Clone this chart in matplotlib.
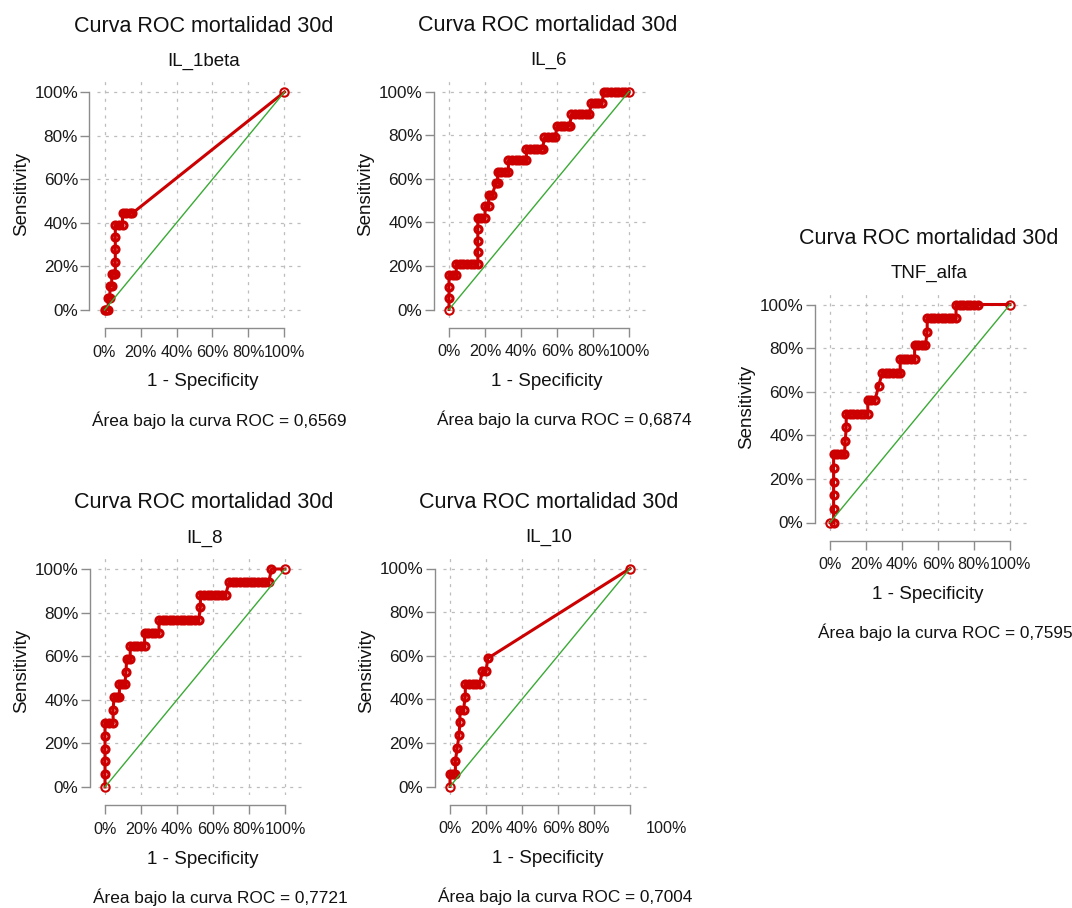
import matplotlib
matplotlib.use("Agg")
import matplotlib.pyplot as plt
import matplotlib.transforms as mtransforms

plt.rcParams["font.family"] = ["Liberation Sans", "DejaVu Sans"]
plt.rcParams["lines.scale_dashes"] = False

W, H = 1072, 908
SX, SY = 180.0, 218.0          # pixels per unit on each panel
RED = "#cc0000"
GREEN = "#3aaa35"
GRID = "#bdbdbd"
AXIS = "#8c8c8c"

# ---- ROC points (1 - specificity, sensitivity) ----
il1b_fpr = [0.00, 0.01, 0.02, 0.02, 0.03, 0.03, 0.04, 0.04, 0.05, 0.06, 0.06, 0.06,
            0.06, 0.06, 0.08, 0.10, 0.10, 0.12, 0.14, 0.155, 1.00]
il1b_tpr = [0.000, 0.000, 0.000, 0.056, 0.056, 0.111, 0.111, 0.167, 0.167, 0.167, 0.222, 0.278,
            0.333, 0.389, 0.389, 0.389, 0.444, 0.444, 0.444, 0.444, 1.000]

il6_fpr = [0.00, 0.00, 0.00, 0.00, 0.02, 0.04,
           0.04, 0.06, 0.08, 0.10, 0.12, 0.14, 0.16,
           0.16, 0.16, 0.16,
           0.16, 0.18, 0.20,
           0.20, 0.22,
           0.22, 0.24,
           0.26, 0.27,
           0.27, 0.29, 0.31, 0.33,
           0.33, 0.35, 0.37, 0.39, 0.41, 0.43,
           0.43, 0.45, 0.47, 0.49, 0.51, 0.52,
           0.53, 0.55, 0.57, 0.59,
           0.60, 0.62, 0.64, 0.66, 0.67,
           0.68, 0.70, 0.72, 0.74, 0.76, 0.78,
           0.79, 0.81, 0.83, 0.85,
           0.86, 0.88, 0.90, 0.92, 0.94, 0.96, 0.98, 1.00]
il6_tpr = [0.000, 0.053, 0.105, 0.158, 0.158, 0.158,
           0.211, 0.211, 0.211, 0.211, 0.211, 0.211, 0.211,
           0.263, 0.316, 0.368,
           0.421, 0.421, 0.421,
           0.474, 0.474,
           0.526, 0.526,
           0.579, 0.579,
           0.632, 0.632, 0.632, 0.632,
           0.684, 0.684, 0.684, 0.684, 0.684, 0.684,
           0.737, 0.737, 0.737, 0.737, 0.737, 0.737,
           0.789, 0.789, 0.789, 0.789,
           0.842, 0.842, 0.842, 0.842, 0.842,
           0.895, 0.895, 0.895, 0.895, 0.895, 0.895,
           0.947, 0.947, 0.947, 0.947,
           1.000, 1.000, 1.000, 1.000, 1.000, 1.000, 1.000, 1.000]

il8_fpr = [0.00, 0.00, 0.00, 0.00, 0.00, 0.00, 0.02, 0.045,
           0.045,
           0.05, 0.065, 0.08,
           0.08, 0.095, 0.11,
           0.117,
           0.12, 0.14,
           0.14, 0.16, 0.18, 0.20, 0.22,
           0.22, 0.24, 0.26, 0.28, 0.30,
           0.30, 0.32, 0.34, 0.36, 0.38, 0.40, 0.42, 0.44, 0.46, 0.48, 0.50, 0.52,
           0.53,
           0.53, 0.55, 0.57, 0.59, 0.61, 0.63, 0.65, 0.67,
           0.69, 0.71, 0.73, 0.75, 0.77, 0.79, 0.81, 0.83, 0.85, 0.87, 0.89, 0.91,
           0.925, 1.00]
il8_tpr = [0.000, 0.059, 0.118, 0.176, 0.235, 0.294, 0.294, 0.294,
           0.353,
           0.412, 0.412, 0.412,
           0.471, 0.471, 0.471,
           0.529,
           0.588, 0.588,
           0.647, 0.647, 0.647, 0.647, 0.647,
           0.706, 0.706, 0.706, 0.706, 0.706,
           0.765, 0.765, 0.765, 0.765, 0.765, 0.765, 0.765, 0.765, 0.765, 0.765, 0.765, 0.765,
           0.824,
           0.882, 0.882, 0.882, 0.882, 0.882, 0.882, 0.882, 0.882,
           0.941, 0.941, 0.941, 0.941, 0.941, 0.941, 0.941, 0.941, 0.941, 0.941, 0.941, 0.941,
           1.000, 1.000]

il10_fpr = [0.00, 0.00, 0.015, 0.03, 0.03, 0.04, 0.05, 0.055, 0.055, 0.075, 0.085,
            0.085, 0.105, 0.125, 0.145, 0.165, 0.18, 0.20, 0.21, 1.00]
il10_tpr = [0.000, 0.059, 0.059, 0.059, 0.118, 0.176, 0.235, 0.294, 0.353, 0.353, 0.412,
            0.471, 0.471, 0.471, 0.471, 0.471, 0.529, 0.529, 0.588, 1.000]

tnf_fpr = [0.00, 0.02,
           0.02, 0.02, 0.02, 0.02, 0.02, 0.04, 0.06, 0.08,
           0.085, 0.09,
           0.09, 0.11, 0.13, 0.15, 0.17, 0.19, 0.21,
           0.21, 0.23, 0.25,
           0.27,
           0.29, 0.31, 0.33, 0.35, 0.37, 0.39,
           0.39, 0.41, 0.43, 0.45, 0.47,
           0.47, 0.49, 0.51, 0.53,
           0.54,
           0.54, 0.56, 0.58, 0.60, 0.62, 0.64, 0.66, 0.68, 0.70,
           0.70, 0.72, 0.74, 0.76, 0.78, 0.80, 0.82, 1.00]
tnf_tpr = [0.000, 0.000,
           0.0625, 0.125, 0.1875, 0.25, 0.3125, 0.3125, 0.3125, 0.3125,
           0.375, 0.4375,
           0.5, 0.5, 0.5, 0.5, 0.5, 0.5, 0.5,
           0.5625, 0.5625, 0.5625,
           0.625,
           0.6875, 0.6875, 0.6875, 0.6875, 0.6875, 0.6875,
           0.75, 0.75, 0.75, 0.75, 0.75,
           0.8125, 0.8125, 0.8125, 0.8125,
           0.875,
           0.9375, 0.9375, 0.9375, 0.9375, 0.9375, 0.9375, 0.9375, 0.9375, 0.9375,
           1.0, 1.0, 1.0, 1.0, 1.0, 1.0, 1.0, 1.0]

markers = ["IL_1beta", "IL_6", "IL_8", "IL_10", "TNF_alfa"]
auc_values = ["0,6569", "0,6874", "0,7721", "0,7004", "0,7595"]
tick_values = [0.0, 0.2, 0.4, 0.6, 0.8, 1.0]
tick_labels = ["0%", "20%", "40%", "60%", "80%", "100%"]

# panel origins: pixel position of the (0, 0) corner of each ROC square
origins = [(104.5, 310.0), (449.0, 309.5), (105.0, 787.0), (450.0, 786.5), (830.0, 522.5)]
curves = [(il1b_fpr, il1b_tpr), (il6_fpr, il6_tpr), (il8_fpr, il8_tpr),
          (il10_fpr, il10_tpr), (tnf_fpr, tnf_tpr)]

XMIN, XMAX = -0.039, 1.094
YMIN, YMAX = -0.037, 1.055

fig = plt.figure(figsize=(W / 100, H / 100), dpi=100)


def px_text(x, y, s, **kw):
    fig.text(x / W, 1 - y / H, s, **kw)


for i, (name, auc, (x0, y0), (fpr, tpr)) in enumerate(zip(markers, auc_values, origins, curves)):
    left = x0 + XMIN * SX
    right = x0 + XMAX * SX
    top = y0 - YMAX * SY
    bottom = y0 - YMIN * SY
    ax = fig.add_axes([left / W, 1 - bottom / H, (right - left) / W, (bottom - top) / H])
    ax.set_xlim(XMIN, XMAX)
    ax.set_ylim(YMIN, YMAX)

    for v in tick_values:
        ax.axvline(v, color=GRID, lw=0.9, ls=(0, (2.2, 3.8)), zorder=0)
        ax.axhline(v, color=GRID, lw=0.9, ls=(0, (2.2, 3.8)), zorder=0)

    # inner points drawn as heavy rings, the two end points as light open circles
    ax.plot(fpr, tpr, color=RED, lw=2.2, zorder=3, clip_on=False)
    ax.plot(fpr[1:-1], tpr[1:-1], ls="none", marker="o", ms=5.0, mfc="none",
            mec=RED, mew=2.3, zorder=3, clip_on=False)
    ax.plot([fpr[0], fpr[-1]], [tpr[0], tpr[-1]], ls="none", marker="o", ms=6.0,
            mfc="none", mec=RED, mew=1.5, zorder=3, clip_on=False)
    ax.plot([0, 1], [0, 1], color=GREEN, lw=1.0, zorder=4)

    for side in ("top", "right"):
        ax.spines[side].set_visible(False)
    ax.spines["left"].set_position(("outward", 6.0))
    ax.spines["bottom"].set_position(("outward", 7.2))
    ax.spines["left"].set_bounds(0, 1)
    ax.spines["bottom"].set_bounds(0, 1)
    for side in ("left", "bottom"):
        ax.spines[side].set_color(AXIS)
        ax.spines[side].set_linewidth(1.0)

    ax.set_xticks(tick_values)
    ax.set_xticklabels(tick_labels)
    ax.set_yticks(tick_values)
    ax.set_yticklabels(tick_labels)
    ax.tick_params(axis="both", direction="out", length=6.5, width=1.0, color=AXIS,
                   labelcolor="#1a1a1a")
    ax.tick_params(axis="x", pad=5.5, labelsize=11.6)
    ax.tick_params(axis="y", pad=1.5, labelsize=12.3)
    ax.set_facecolor("none")

    if name == "IL_10":
        shift = mtransforms.ScaledTranslation(36 / 100, 0, fig.dpi_scale_trans)
        last = ax.get_xticklabels()[-1]
        last.set_transform(last.get_transform() + shift)

    y1 = y0 - SY
    px_text(x0 + 99, y1 - 66, "Curva ROC mortalidad 30d", ha="center", va="center",
            fontsize=15.5, color="#111111")
    px_text(x0 + 99, y1 - 31, name, ha="center", va="center", fontsize=13.5, color="#111111")
    px_text(x0 - 83, y0 - 116, "Sensitivity", ha="center", va="center", rotation=90,
            fontsize=13.5, color="#111111")
    px_text(x0 + 98, y0 + 72, "1 - Specificity", ha="center", va="center",
            fontsize=13.5, color="#111111")
    px_text(x0 + 115, y0 + 110, "Área bajo la curva ROC = " + auc, ha="center", va="center",
            fontsize=12.4, color="#111111")

fig.savefig("out.png", dpi=100, facecolor="white")
